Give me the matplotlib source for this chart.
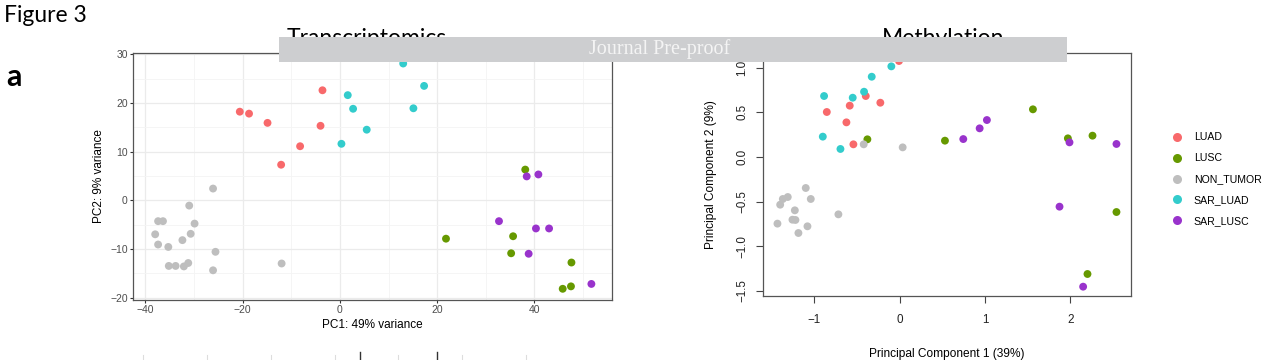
import matplotlib
matplotlib.use("Agg")
import matplotlib.pyplot as plt
from matplotlib.lines import Line2D
from matplotlib.patches import Rectangle
import numpy as np

groups = ["LUAD", "LUSC", "NON_TUMOR", "SAR_LUAD", "SAR_LUSC"]
colors = {"LUAD": "#F8696B", "LUSC": "#669900", "NON_TUMOR": "#BEBEBE",
          "SAR_LUAD": "#33CCCC", "SAR_LUSC": "#9933CC"}

# Transcriptomics PCA (PC1, PC2)
tx_pc1 = {
    "LUAD": [-20.6, -18.7, -14.9, -3.6, -4.0, -8.2, -12.1],
    "LUSC": [38.1, 21.8, 35.6, 35.2, 47.6, 45.8, 47.5],
    "NON_TUMOR": [-26.1, -31.0, -37.4, -36.4, -29.9, -38.0, -30.7, -37.4, -32.4,
                  -35.3, -25.6, -35.2, -33.8, -32.1, -31.2, -26.1, -12.0],
    "SAR_LUAD": [13.0, 17.3, 1.6, 2.7, 15.1, 5.5, 0.3],
    "SAR_LUSC": [38.4, 40.8, 32.7, 40.3, 43.0, 38.8, 51.7],
}
tx_pc2 = {
    "LUAD": [18.2, 17.8, 15.9, 22.6, 15.3, 11.1, 7.3],
    "LUSC": [6.3, -7.9, -7.4, -10.9, -12.8, -18.2, -17.7],
    "NON_TUMOR": [2.4, -1.1, -4.3, -4.3, -4.8, -7.0, -6.9, -9.1, -8.2,
                  -9.6, -10.6, -13.5, -13.5, -13.6, -12.9, -14.4, -13.0],
    "SAR_LUAD": [28.1, 23.5, 21.6, 18.8, 18.9, 14.5, 11.6],
    "SAR_LUSC": [4.9, 5.3, -4.3, -5.8, -5.8, -11.0, -17.2],
}

# Methylation PCA (PC1, PC2)
me_pc1 = {
    "LUAD": [-0.855, -0.625, -0.586, -0.398, -0.227, -0.543, -0.008],
    "LUSC": [-0.379, 0.531, 1.563, 1.973, 2.262, 2.543, 2.203],
    "NON_TUMOR": [-0.422, 0.035, -1.102, -1.043, -1.313, -1.371, -1.402, -1.230,
                  -1.434, -1.258, -1.223, -1.082, -1.188, -0.719],
    "SAR_LUAD": [-0.887, -0.902, -0.695, -0.551, -0.418, -0.328, -0.098],
    "SAR_LUSC": [0.746, 0.938, 1.023, 1.992, 2.543, 1.875, 2.152],
}
me_pc2 = {
    "LUAD": [0.504, 0.388, 0.575, 0.683, 0.608, 0.142, 1.075],
    "LUSC": [0.198, 0.183, 0.534, 0.209, 0.239, -0.616, -1.310],
    "NON_TUMOR": [0.142, 0.108, -0.347, -0.470, -0.448, -0.470, -0.534, -0.597,
                  -0.746, -0.702, -0.705, -0.776, -0.851, -0.642],
    "SAR_LUAD": [0.683, 0.228, 0.090, 0.664, 0.731, 0.899, 1.015],
    "SAR_LUSC": [0.201, 0.321, 0.414, 0.164, 0.146, -0.556, -1.452],
}

W, H = 1267, 360
fig = plt.figure(figsize=(W / 100, H / 100), dpi=100)
plt.rcParams['font.family'] = ['Liberation Sans', 'DejaVu Sans']

def fx(px):
    return px / W

def fy(py):
    return 1 - py / H

# ---------------- left panel (ggplot-like) ----------------
axL = fig.add_axes([fx(133.3), fy(299.5), (612.3 - 133.3) / W, (299.5 - 53.3) / H])
for g in groups:
    axL.scatter(tx_pc1[g], tx_pc2[g], s=32, color=colors[g], edgecolors='none', zorder=3)
axL.set_xlim(-42.5, 56.0)
axL.set_ylim(-20.4, 30.2)
axL.set_xticks([-40, -20, 0, 20, 40])
axL.set_yticks([-20, -10, 0, 10, 20, 30])
axL.set_xticks([-30, -10, 10, 30, 50], minor=True)
axL.set_yticks([-15, -5, 5, 15, 25], minor=True)
axL.grid(True, which='major', color='#EBEBEB', lw=0.9, zorder=0)
axL.grid(True, which='minor', color='#F4F4F4', lw=0.6, zorder=0)
axL.tick_params(which='major', length=2.5, width=0.8, color='#333333',
                labelsize=7.5, labelcolor='#4D4D4D', pad=1.5)
axL.tick_params(which='minor', length=0)
for sp in axL.spines.values():
    sp.set_color('#555555')
    sp.set_linewidth(0.9)
axL.set_xlabel("PC1: 49% variance", fontsize=8.5, labelpad=2.5)
axL.set_ylabel("PC2: 9% variance", fontsize=8.5, labelpad=4)
axL.set_axisbelow(True)

# ---------------- right panel (base R-like) ----------------
axR = fig.add_axes([fx(763.3), fy(295.7), (1130.7 - 763.3) / W, (295.7 - 52.7) / H])
for g in groups:
    axR.scatter(me_pc1[g], me_pc2[g], s=32, color=colors[g], edgecolors='none', zorder=3)
axR.set_xlim(-1.6, 2.71)
axR.set_ylim(-1.553, 1.168)
axR.set_xticks([-1, 0, 1, 2])
axR.set_yticks([-1.5, -1.0, -0.5, 0.0, 0.5, 1.0])
axR.set_yticklabels(["\u22121.5", "\u22121.0", "\u22120.5", "0.0", "0.5", "1.0"],
                    rotation=90, va='center')
axR.tick_params(length=5, width=0.8, color='#444444', labelsize=8.4,
                labelcolor='#222222', pad=6)
axR.tick_params(axis='x', pad=8.5)
for sp in axR.spines.values():
    sp.set_color('#555555')
    sp.set_linewidth(0.9)
axR.set_xlabel("Principal Component 1 (39%)", fontsize=8.6, labelpad=15.5)
axR.set_ylabel("Principal Component 2 (9%)", fontsize=8.6, labelpad=14)

# legend
handles = [Line2D([], [], marker='o', ls='none', markersize=6.5,
                  markerfacecolor=colors[g], markeredgecolor='none') for g in groups]
fig.legend(handles, groups, loc='upper left', bbox_to_anchor=(fx(1171), fy(132.5)),
           frameon=False, fontsize=7.6, handletextpad=0.95, labelspacing=1.03,
           handlelength=1.2, borderaxespad=0, borderpad=0)

# titles and labels
fig.text(fx(4), fy(22), "Figure 3", fontsize=16.5, family=['Lato', 'DejaVu Sans'],
         va='baseline', ha='left', zorder=5)
fig.text(fx(6), fy(86), "a", fontsize=22, fontweight='bold', family=['Lato', 'DejaVu Sans'],
         va='baseline', ha='left', zorder=5)
fig.text(fx(367), fy(45), "Transcriptomics", fontsize=16.5, family=['Lato', 'DejaVu Sans'],
         ha='center', va='baseline', zorder=5)
fig.text(fx(943), fy(45), "Methylation", fontsize=16.5, family=['Lato', 'DejaVu Sans'],
         ha='center', va='baseline', zorder=5)

# watermark bar
bar = Rectangle((fx(279), fy(62)), (1067 - 279) / W, (62 - 37) / H,
                transform=fig.transFigure, facecolor='#CDCED0', edgecolor='none', zorder=20)
fig.patches.append(bar)
fig.text(fx(660), fy(49.5), "Journal Pre-proof", fontsize=14.5,
         family=['Liberation Serif', 'DejaVu Serif'], color='#F4F4F4',
         ha='center', va='center', zorder=21)

# fragments of the next panel at the bottom edge
for px in [143, 207, 271, 335, 398, 462, 526]:
    fig.add_artist(Line2D([fx(px), fx(px)], [fy(355), fy(360)], color='#DDDDDD', lw=0.8,
                          transform=fig.transFigure))
for px in [360, 437]:
    fig.add_artist(Line2D([fx(px), fx(px)], [fy(352), fy(360)], color='#333333', lw=1.0,
                          transform=fig.transFigure))

fig.savefig("out.png", dpi=100)
